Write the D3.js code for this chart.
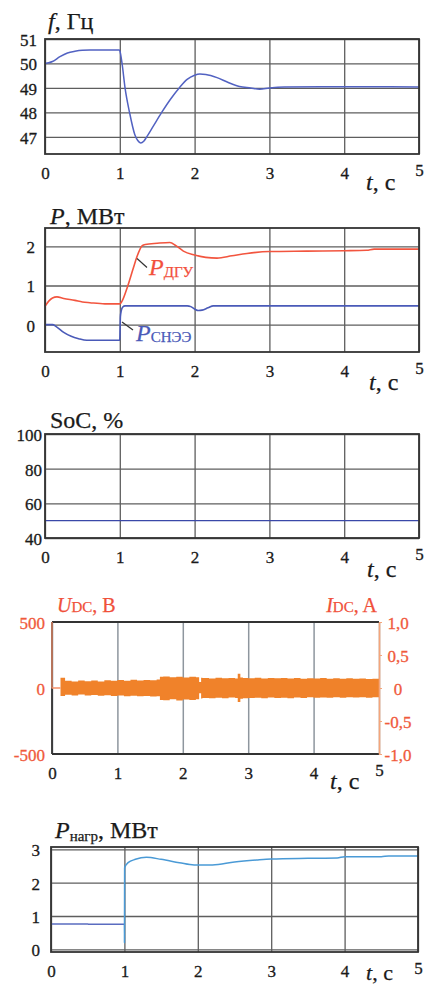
<!DOCTYPE html>
<html><head><meta charset="utf-8">
<script src="https://cdn.jsdelivr.net/npm/d3@7"></script>
<style>
body{margin:0;background:#fff}
svg{display:block}
text{font-family:'Liberation Serif','DejaVu Serif','Times New Roman',serif}
</style>
</head><body>
<svg id="c" width="438" height="986"></svg>
<script>
// ---------- data ----------
const timeTicks = [0, 1, 2, 3, 4, 5];

const fTicks = [47, 48, 49, 50, 51];
const fData = [[0,50.0],[0.05,50.03],[0.1,50.08],[0.2,50.28],[0.3,50.43],[0.4,50.5],[0.5,50.54],[0.6,50.55],[0.99,50.55],[1.0,50.52],[1.03,50.0],[1.07,49.0],[1.13,48.0],[1.2,47.1],[1.24,46.85],[1.28,46.75],[1.32,46.82],[1.36,47.0],[1.45,47.45],[1.56,48.0],[1.68,48.55],[1.8,49.02],[1.9,49.35],[2.0,49.52],[2.07,49.57],[2.15,49.55],[2.3,49.42],[2.45,49.22],[2.6,49.06],[2.75,49.0],[2.87,48.95],[3.0,49.0],[3.2,49.04],[4.0,49.05],[5.0,49.04]];

const pTicks = [0, 1, 2];
const pDgu = [[0,0.47],[0.05,0.6],[0.1,0.68],[0.16,0.71],[0.25,0.67],[0.4,0.62],[0.5,0.58],[0.6,0.56],[0.8,0.53],[1.0,0.53],[1.03,0.6],[1.1,0.95],[1.18,1.44],[1.23,1.74],[1.3,2.02],[1.34,2.05],[1.5,2.08],[1.67,2.1],[1.75,2.02],[1.85,1.88],[2.0,1.78],[2.15,1.72],[2.3,1.7],[2.5,1.76],[2.7,1.82],[3.0,1.87],[3.5,1.88],[4.0,1.89],[4.3,1.9],[4.4,1.93],[5.0,1.93]];
const pSnee = [[0,0],[0.1,0],[0.15,-0.05],[0.25,-0.2],[0.35,-0.3],[0.45,-0.36],[0.56,-0.4],[0.8,-0.4],[1.0,-0.4],[1.004,-0.1],[1.008,0.2],[1.02,0.36],[1.04,0.45],[1.07,0.48],[1.9,0.48],[1.95,0.46],[2.0,0.4],[2.05,0.36],[2.1,0.37],[2.18,0.43],[2.25,0.48],[5.0,0.48]];

const socTicks = [40, 60, 80, 100];
const socData = [[0,50],[5,50]];

const uTicks = [-500, 0, 500];
const iTicks = [-1, -0.5, 0, 0.5, 1];
const udcInit = [[0,500],[0,0],[0.13,0]];
const nT  = [0.13,0.2,0.3,0.4,0.5,0.6,0.7,0.8,0.9,1.0,1.1,1.2,1.3,1.4,1.5,1.6,1.65,1.7,1.8,1.9,2.0,2.1,2.2,2.25,2.28,2.3,2.4,2.5,2.6,2.7,2.8,2.84,2.88,2.92,3.0,3.1,3.2,3.3,3.4,3.5,3.6,3.7,3.8,3.9,4.0,4.1,4.2,4.3,4.4,4.5,4.6,4.7,4.8,4.9,5.0];
const nUp = [78,55,50,57,52,56,50,58,55,60,54,62,57,60,58,64,85,88,82,86,80,85,82,45,78,76,72,77,73,76,72,108,80,75,74,77,72,76,73,75,72,76,71,74,72,75,70,74,71,73,70,72,69,71,70];
const nLo = [-60,-52,-56,-50,-57,-53,-58,-54,-60,-56,-62,-58,-63,-60,-65,-62,-90,-92,-86,-94,-88,-90,-86,-40,-80,-76,-78,-74,-77,-72,-76,-106,-82,-78,-75,-73,-77,-72,-76,-74,-77,-72,-75,-71,-74,-72,-73,-70,-74,-71,-72,-70,-73,-70,-70];

const loadTicks = [0, 1, 2, 3];
const pLoad = [[0,0.76],[0.5,0.76],[0.52,0.75],[1.0,0.75],[1.001,0.2],[1.003,2.45],[1.05,2.6],[1.15,2.7],[1.3,2.76],[1.5,2.7],[1.75,2.6],[1.95,2.53],[2.2,2.53],[2.5,2.62],[2.8,2.68],[3.0,2.71],[3.5,2.73],[3.9,2.74],[4.0,2.78],[4.5,2.78],[4.6,2.8],[5.0,2.8]];

// ---------- drawing ----------
const SERIF = "'Liberation Serif','DejaVu Serif','Times New Roman',serif";
const svg = d3.select('#c');
svg.append('rect').attr('width',438).attr('height',986).attr('fill','#fff');

function styleTick(sel, color){
  sel.attr('font-size',17).attr('font-family',SERIF).attr('fill',color)
     .attr('stroke',color).attr('stroke-width',0.3);
}

function makePanel(o){
  const x = d3.scaleLinear().domain([0,5]).range([o.l,o.r]);
  const y = d3.scaleLinear().domain(o.yd).range([o.b,o.t]);
  const h = o.b - o.t, w = o.r - o.l;
  const gc = o.gc || '#5e5e5e';
  const gx = svg.append('g').attr('transform',`translate(0,${o.b})`)
    .call(d3.axisBottom(x).tickValues(timeTicks).tickFormat(d3.format('d'))
      .tickSize(-h).tickSizeOuter(0).tickPadding(o.xpad || 13));
  gx.attr('font-family',SERIF);
  gx.select('.domain').remove();
  gx.selectAll('line').attr('stroke',gc).attr('stroke-width',o.gw || 1.3);
  styleTick(gx.selectAll('text'), '#1a1a1a');
  gx.selectAll('text').filter(d=>d===5).attr('dy','0.55em');

  const ya = d3.axisLeft(y).tickValues(o.yt).tickSizeOuter(0)
    .tickSize(o.noYGrid ? 0 : -w).tickPadding(o.ypad)
    .tickFormat(o.yf || (d=>String(d).replace('−','-')));
  const gy = svg.append('g').attr('transform',`translate(${o.l},0)`).call(ya);
  gy.attr('font-family',SERIF);
  gy.select('.domain').remove();
  gy.selectAll('line').attr('stroke',gc).attr('stroke-width',1.3);
  styleTick(gy.selectAll('text'), o.ylc || '#1a1a1a');
  gy.selectAll('text').attr('dy','0.38em');
  return {x, y, o};
}
function border(p, color){
  const o = p.o;
  svg.append('rect').attr('x',o.l).attr('y',o.t).attr('width',o.r-o.l).attr('height',o.b-o.t)
    .attr('fill','none').attr('stroke',color || '#333').attr('stroke-width',1.8);
}
function drawLine(p, data, color, width, curve){
  svg.append('path').datum(data)
    .attr('d', d3.line().x(d=>p.x(d[0])).y(d=>p.y(d[1])).curve(curve || d3.curveMonotoneX))
    .attr('fill','none').attr('stroke',color).attr('stroke-width',width || 1.5)
    .attr('stroke-linejoin','round');
}
function label(x, y, parts, color, anchor){
  const c = color || '#1a1a1a';
  const t = svg.append('text').attr('x',x).attr('y',y).attr('fill',c)
    .attr('stroke',c).attr('stroke-width',0.25)
    .attr('font-family',SERIF).attr('text-anchor',anchor || 'start');
  parts.forEach(pt=>{
    t.append('tspan').text(pt.t).attr('font-size',pt.s)
      .attr('font-style',pt.i ? 'italic' : 'normal')
      .attr('dy',pt.dy || 0);
  });
}
function tLabel(x, y){
  label(x, y, [{t:'t',s:24,i:true},{t:', с',s:24}]);
}

// Panel 1: frequency
const p1 = makePanel({l:45,r:419,t:39,b:154,yd:[46.3,51],yt:fTicks,ypad:8});
drawLine(p1, fData, '#5262c2', 1.5);
border(p1);
label(48, 29, [{t:'f',s:24,i:true},{t:', Гц',s:24}]);
tLabel(366, 190);

// Panel 2: power
const p2 = makePanel({l:45,r:419,t:228,b:352,yd:[-0.7,2.47],yt:pTicks,ypad:10});
drawLine(p2, pDgu, '#f2553f', 1.6);
drawLine(p2, pSnee, '#4a5ab8', 1.6);
border(p2);
label(50, 224, [{t:'P',s:24,i:true},{t:', МВт',s:24}]);
tLabel(369, 390);
svg.append('line').attr('x1',137).attr('y1',258.5).attr('x2',147).attr('y2',267.5).attr('stroke','#333').attr('stroke-width',1.2);
svg.append('line').attr('x1',122).attr('y1',322).attr('x2',133).attr('y2',330).attr('stroke','#333').attr('stroke-width',1.2);
label(149, 275, [{t:'P',s:24,i:true},{t:'ДГУ',s:15,dy:2}], '#f2503c');
label(136, 341, [{t:'P',s:24,i:true},{t:'СНЭЭ',s:15,dy:1}], '#4a5ab8');

// Panel 3: SoC
const p3 = makePanel({l:45,r:419,t:434,b:538,yd:[40,100],yt:socTicks,ypad:3});
drawLine(p3, socData, '#3a48a8', 1.4, d3.curveLinear);
border(p3);
label(50, 428, [{t:'SoC, %',s:24}]);
tLabel(367, 577);

// Panel 4: Udc / Idc
const p4 = makePanel({l:52,r:379,t:622,b:754,yd:[-500,500],yt:uTicks,ypad:7,noYGrid:true,
  gc:'#8e969e',gw:1.5,ylc:'#f05a3c'});
const yI = d3.scaleLinear().domain([-1,1]).range([754,622]);
svg.append('path').datum(nT.map((t,i)=>[t,nUp[i],nLo[i]]))
  .attr('d', d3.area().x(d=>p4.x(d[0])).y0(d=>p4.y(d[2])).y1(d=>p4.y(d[1])).curve(d3.curveStepAfter))
  .attr('fill','#f0822a');
svg.append('line').attr('x1',52).attr('x2',379).attr('y1',622).attr('y2',622).attr('stroke','#333').attr('stroke-width',1.8);
svg.append('line').attr('x1',52).attr('x2',379).attr('y1',754).attr('y2',754).attr('stroke','#333').attr('stroke-width',1.8);
svg.append('line').attr('x1',52).attr('x2',52).attr('y1',622).attr('y2',754).attr('stroke','#333').attr('stroke-width',1.8);
drawLine(p4, udcInit, '#f5906a', 1.3, d3.curveLinear);
const gr = svg.append('g').attr('transform','translate(379,0)')
  .call(d3.axisRight(yI).tickValues(iTicks).tickSize(3).tickSizeOuter(0).tickPadding(16)
    .tickFormat(d=> d===0 ? '0' : (d<0?'-':'') + Math.abs(d).toFixed(1).replace('.',',')));
gr.attr('font-family',SERIF);
gr.select('.domain').attr('stroke','#f5a57a').attr('stroke-width',1.6);
gr.selectAll('line').attr('stroke','#f5a57a');
styleTick(gr.selectAll('text'), '#f05a3c');
gr.selectAll('text').attr('text-anchor','middle').attr('dy','0.38em');
label(57, 612, [{t:'U',s:20,i:true},{t:'DC',s:15},{t:', B',s:20}], '#f0503a');
label(377, 612, [{t:'I',s:20,i:true},{t:'DC',s:15},{t:', A',s:20}], '#f0503a', 'end');
tLabel(330, 789);

// Panel 5: load power
const p5 = makePanel({l:51,r:418,t:847,b:952,yd:[-0.08,3.07],yt:loadTicks,ypad:11});
drawLine(p5, pLoad.filter(d=>d[0]<=1.0), '#5a6cc0', 1.5);
drawLine(p5, pLoad.filter(d=>d[0]>=1.0), '#4a9ad6', 1.5);
border(p5);
label(55, 838, [{t:'P',s:24,i:true},{t:'нагр',s:15,dy:3},{t:', МВт',s:24,dy:-3}]);
label(366, 980, [{t:'t',s:22,i:true},{t:', с',s:22}]);
</script>
</body></html>
